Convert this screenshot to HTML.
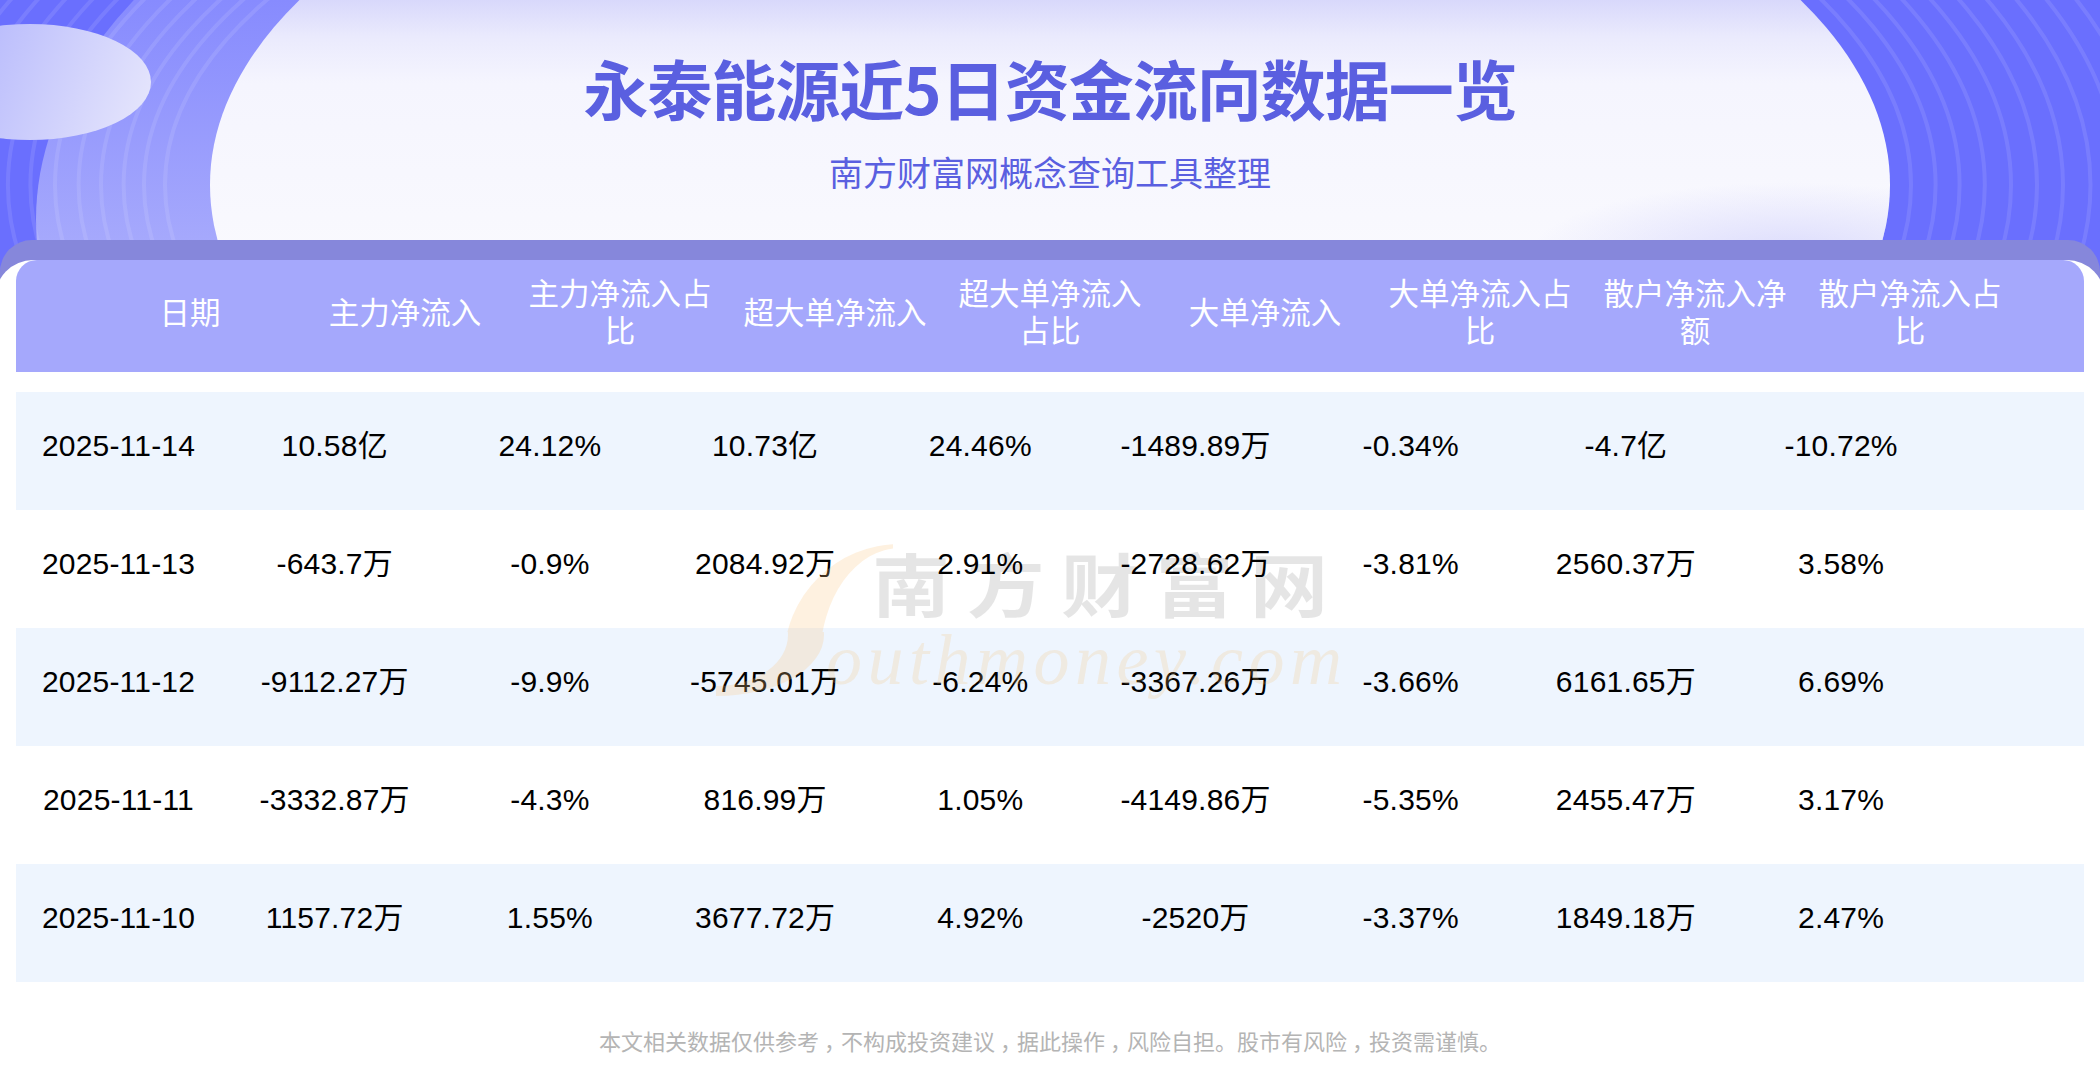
<!DOCTYPE html>
<html lang="zh-CN">
<head>
<meta charset="utf-8">
<title>永泰能源近5日资金流向数据一览</title>
<style>
html,body{margin:0;padding:0;}
body{width:2100px;height:1088px;position:relative;overflow:hidden;background:#fff;font-family:"Liberation Sans","Noto Sans CJK SC",sans-serif;}
#bg{position:absolute;left:0;top:0;}
.title{position:absolute;left:0;width:2100px;text-align:center;top:45px;font-family:"Noto Sans CJK SC",sans-serif;font-weight:700;font-size:65px;line-height:84px;letter-spacing:-1px;color:#5a5fe0;white-space:nowrap;}
.sub{position:absolute;left:0;width:2100px;text-align:center;top:149px;font-family:"Noto Sans CJK SC",sans-serif;font-weight:400;font-size:34px;line-height:46px;color:#5a5fe0;white-space:nowrap;}
.card{position:absolute;left:-5px;top:260px;width:2110px;height:900px;background:#fff;border-radius:38px 38px 0 0;}
.band{position:absolute;left:0;top:240px;width:2100px;height:80px;background:#8687db;border-radius:32px 32px 0 0;}
.head{position:absolute;left:16px;top:260px;width:2068px;height:112px;background:#a5a8fc;border-radius:21px 21px 0 0;}
.hc{position:absolute;top:-5px;height:112px;width:190px;display:flex;align-items:center;justify-content:center;text-align:center;color:#fff;font-family:"Noto Sans CJK SC",sans-serif;font-size:30.5px;line-height:37px;}
.row{position:absolute;left:16px;width:2068px;height:118px;}
.row.alt{background:#eef5fe;}
.dc{position:absolute;top:-5px;height:118px;width:214px;line-height:118px;text-align:center;color:#000;font-size:30px;letter-spacing:0.2px;white-space:nowrap;}
.u{position:relative;top:0;}
.foot{position:absolute;left:0;width:2100px;text-align:center;top:1023px;font-family:"Noto Sans CJK SC",sans-serif;font-size:22px;line-height:34px;color:#b4b4b4;white-space:nowrap;}
.wm{position:absolute;pointer-events:none;}
.cm{position:relative;left:5px;}
</style>
</head>
<body>
<svg id="bg" width="2100" height="300" viewBox="0 0 2100 300">
<defs>
<linearGradient id="halo" gradientUnits="userSpaceOnUse" x1="0" y1="0" x2="0" y2="260">
<stop offset="0" stop-color="#878bfe"/>
<stop offset="1" stop-color="#a8abfc"/>
</linearGradient>
<linearGradient id="wh" gradientUnits="userSpaceOnUse" x1="0" y1="0" x2="0" y2="260">
<stop offset="0" stop-color="#d8d8fb"/>
<stop offset="0.14" stop-color="#eaeafd"/>
<stop offset="0.32" stop-color="#f5f5fe"/>
<stop offset="1" stop-color="#f9f9fe"/>
</linearGradient>
<linearGradient id="tl" gradientUnits="userSpaceOnUse" x1="-60" y1="40" x2="150" y2="120">
<stop offset="0" stop-color="#b0b3fc"/>
<stop offset="1" stop-color="#e6e6fc"/>
</linearGradient>
<clipPath id="cl"><rect x="0" y="0" width="1050" height="300"/></clipPath><clipPath id="cr"><rect x="1050" y="0" width="1050" height="300"/></clipPath>
<radialGradient id="glow" gradientUnits="userSpaceOnUse" cx="1790" cy="255" r="260" gradientTransform="translate(1790 255) scale(1 0.28) translate(-1790 -255)">
<stop offset="0" stop-color="#d6d6fc" stop-opacity="0.85"/>
<stop offset="1" stop-color="#d6d6fc" stop-opacity="0"/>
</radialGradient>
<clipPath id="wc"><ellipse cx="1050" cy="185" rx="840" ry="412"/></clipPath>
</defs>
<rect x="0" y="0" width="2100" height="300" fill="#6a6ffe"/>
<ellipse cx="900" cy="220" rx="864" ry="476" fill="url(#halo)"/>
<g id="rings" fill="none" stroke="#ffffff" stroke-opacity="0.1" stroke-width="4"><g clip-path="url(#cl)"><ellipse cx="1038.0" cy="185" rx="873.0" ry="394.6"/><ellipse cx="1039.8" cy="185" rx="895.8" ry="404.9"/><ellipse cx="1041.6" cy="185" rx="918.0" ry="414.9"/><ellipse cx="1042.9" cy="185" rx="941.9" ry="425.7"/><ellipse cx="1044.8" cy="185" rx="966.2" ry="436.7"/><ellipse cx="1046.0" cy="185" rx="991.0" ry="447.9"/><ellipse cx="1046.7" cy="185" rx="1016.3" ry="459.4"/><ellipse cx="1049.2" cy="185" rx="1041.3" ry="470.7"/><ellipse cx="1050.8" cy="185" rx="1067.8" ry="482.7"/><ellipse cx="1052.2" cy="185" rx="1094.3" ry="494.6"/><ellipse cx="1053.8" cy="185" rx="1120.8" ry="506.6"/><ellipse cx="1055.2" cy="185" rx="1147.3" ry="518.6"/><ellipse cx="1056.8" cy="185" rx="1173.8" ry="530.6"/><ellipse cx="1058.2" cy="185" rx="1200.3" ry="542.6"/></g><g clip-path="url(#cr)"><ellipse cx="1038.0" cy="185" rx="873.0" ry="419.9"/><ellipse cx="1039.8" cy="185" rx="895.8" ry="430.9"/><ellipse cx="1041.6" cy="185" rx="918.0" ry="441.6"/><ellipse cx="1042.9" cy="185" rx="941.9" ry="453.1"/><ellipse cx="1044.8" cy="185" rx="966.2" ry="464.7"/><ellipse cx="1046.0" cy="185" rx="991.0" ry="476.7"/><ellipse cx="1046.7" cy="185" rx="1016.3" ry="488.8"/><ellipse cx="1049.2" cy="185" rx="1041.3" ry="500.9"/><ellipse cx="1050.8" cy="185" rx="1067.8" ry="513.6"/><ellipse cx="1052.2" cy="185" rx="1094.3" ry="526.4"/><ellipse cx="1053.8" cy="185" rx="1120.8" ry="539.1"/><ellipse cx="1055.2" cy="185" rx="1147.3" ry="551.9"/><ellipse cx="1056.8" cy="185" rx="1173.8" ry="564.6"/><ellipse cx="1058.2" cy="185" rx="1200.3" ry="577.4"/></g></g>
<ellipse cx="1050" cy="185" rx="840" ry="412" fill="url(#wh)"/>
<rect x="1400" y="150" width="700" height="150" fill="url(#glow)" clip-path="url(#wc)"/>
<ellipse cx="30" cy="82" rx="121" ry="58" fill="url(#tl)"/>
</svg>
<div class="title">永泰能源近5日资金流向数据一览</div>
<div class="sub">南方财富网概念查询工具整理</div>
<div class="band"></div>
<div class="card"></div>
<div class="head">
<div class="hc" style="left:79px">日期</div>
<div class="hc" style="left:294px">主力净流入</div>
<div class="hc" style="left:509px">主力净流入占比</div>
<div class="hc" style="left:724px">超大单净流入</div>
<div class="hc" style="left:939px">超大单净流入占比</div>
<div class="hc" style="left:1154px">大单净流入</div>
<div class="hc" style="left:1369px">大单净流入占比</div>
<div class="hc" style="left:1584px">散户净流入净额</div>
<div class="hc" style="left:1799px">散户净流入占比</div>
</div>
<div id="rows">
<div class="row alt" style="top:392px">
<div class="dc" style="left:-4.5px">2025-11-14</div>
<div class="dc" style="left:211.7px">10.58<span class="u">亿</span></div>
<div class="dc" style="left:426.9px">24.12%</div>
<div class="dc" style="left:642.1px">10.73<span class="u">亿</span></div>
<div class="dc" style="left:857.3px">24.46%</div>
<div class="dc" style="left:1072.5px">-1489.89<span class="u">万</span></div>
<div class="dc" style="left:1287.7px">-0.34%</div>
<div class="dc" style="left:1502.9px">-4.7<span class="u">亿</span></div>
<div class="dc" style="left:1718.1px">-10.72%</div>
</div>
<div class="row" style="top:510px">
<div class="dc" style="left:-4.5px">2025-11-13</div>
<div class="dc" style="left:211.7px">-643.7<span class="u">万</span></div>
<div class="dc" style="left:426.9px">-0.9%</div>
<div class="dc" style="left:642.1px">2084.92<span class="u">万</span></div>
<div class="dc" style="left:857.3px">2.91%</div>
<div class="dc" style="left:1072.5px">-2728.62<span class="u">万</span></div>
<div class="dc" style="left:1287.7px">-3.81%</div>
<div class="dc" style="left:1502.9px">2560.37<span class="u">万</span></div>
<div class="dc" style="left:1718.1px">3.58%</div>
</div>
<div class="row alt" style="top:628px">
<div class="dc" style="left:-4.5px">2025-11-12</div>
<div class="dc" style="left:211.7px">-9112.27<span class="u">万</span></div>
<div class="dc" style="left:426.9px">-9.9%</div>
<div class="dc" style="left:642.1px">-5745.01<span class="u">万</span></div>
<div class="dc" style="left:857.3px">-6.24%</div>
<div class="dc" style="left:1072.5px">-3367.26<span class="u">万</span></div>
<div class="dc" style="left:1287.7px">-3.66%</div>
<div class="dc" style="left:1502.9px">6161.65<span class="u">万</span></div>
<div class="dc" style="left:1718.1px">6.69%</div>
</div>
<div class="row" style="top:746px">
<div class="dc" style="left:-4.5px">2025-11-11</div>
<div class="dc" style="left:211.7px">-3332.87<span class="u">万</span></div>
<div class="dc" style="left:426.9px">-4.3%</div>
<div class="dc" style="left:642.1px">816.99<span class="u">万</span></div>
<div class="dc" style="left:857.3px">1.05%</div>
<div class="dc" style="left:1072.5px">-4149.86<span class="u">万</span></div>
<div class="dc" style="left:1287.7px">-5.35%</div>
<div class="dc" style="left:1502.9px">2455.47<span class="u">万</span></div>
<div class="dc" style="left:1718.1px">3.17%</div>
</div>
<div class="row alt" style="top:864px">
<div class="dc" style="left:-4.5px">2025-11-10</div>
<div class="dc" style="left:211.7px">1157.72<span class="u">万</span></div>
<div class="dc" style="left:426.9px">1.55%</div>
<div class="dc" style="left:642.1px">3677.72<span class="u">万</span></div>
<div class="dc" style="left:857.3px">4.92%</div>
<div class="dc" style="left:1072.5px">-2520<span class="u">万</span></div>
<div class="dc" style="left:1287.7px">-3.37%</div>
<div class="dc" style="left:1502.9px">1849.18<span class="u">万</span></div>
<div class="dc" style="left:1718.1px">2.47%</div>
</div>
</div>
<div class="wm" style="left:780px;top:540px;width:113px;height:92px;overflow:hidden;"><div style="position:absolute;left:4px;top:4px;width:232px;height:232px;box-sizing:border-box;border-radius:50%;border-style:solid;border-color:rgba(250,200,130,0.25);border-width:4px 36px;"></div></div>
<div class="wm" style="left:716px;top:632px;width:119px;height:70px;overflow:hidden;"><div style="position:absolute;left:-106.5px;top:-58px;width:214px;height:122px;box-sizing:border-box;border-radius:50%;border-style:solid;border-color:rgba(250,200,130,0.25);border-width:10px 36px;"></div></div>
<div class="wm" style="left:826px;top:610px;font-family:'Liberation Serif',serif;font-style:italic;font-size:72px;line-height:100px;letter-spacing:5.5px;color:rgba(246,190,110,0.2);white-space:nowrap;">outhmoney.com</div>
<div class="wm" style="left:872px;top:532px;font-family:'Noto Sans CJK SC',sans-serif;font-weight:700;font-size:78px;line-height:100px;letter-spacing:16.5px;color:rgba(0,0,0,0.1);transform:scaleY(0.885);transform-origin:0 50px;white-space:nowrap;">南方财富网</div>
<div class="foot">本文相关数据仅供参考<span class="cm">，</span>不构成投资建议<span class="cm">，</span>据此操作<span class="cm">，</span>风险自担。股市有风险<span class="cm">，</span>投资需谨慎。</div>
</body>
</html>
